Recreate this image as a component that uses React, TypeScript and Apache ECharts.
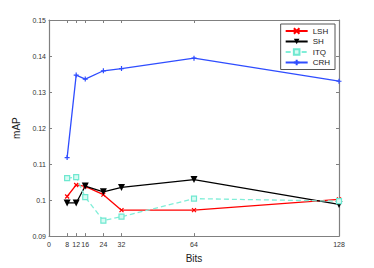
import React, { useEffect, useRef } from "react";
import * as echarts from "echarts";

const bits = [8, 12, 16, 24, 32, 64, 128];
const xTicks = [0, 8, 12, 16, 24, 32, 64, 128];
const lsh = [0.101, 0.1042, 0.1038, 0.1015, 0.0972, 0.0972, 0.1002];
const sh = [0.0992, 0.0992, 0.1039, 0.1023, 0.1035, 0.1057, 0.0988];
const itq = [0.1061, 0.1064, 0.1008, 0.0943, 0.0954, 0.1004, 0.0997];
const crh = [0.1118, 0.1347, 0.1336, 0.1359, 0.1365, 0.1394, 0.133];

const pair = (v: number[]) => bits.map((b, i) => [b, v[i]]);

export default function App() {
  const ref = useRef<HTMLDivElement>(null);
  useEffect(() => {
    const chart = echarts.init(ref.current!, null, { renderer: "svg" });
    const font = "Liberation Sans";
    const axisColor = "#808080";
    chart.setOption({
      animation: false,
      backgroundColor: "#ffffff",
      textStyle: { fontFamily: font },
      grid: { left: 49, right: 35, top: 20, bottom: 31 },
      legend: {
        orient: "vertical",
        right: 39,
        top: 24,
        itemWidth: 22,
        itemHeight: 7,
        itemGap: 2.5,
        padding: [3, 5, 3, 4],
        borderColor: "#555",
        borderWidth: 1,
        backgroundColor: "#fff",
        textStyle: { fontSize: 8, color: "#222", padding: [0, 0, 0, 0] },
        data: ["LSH", "SH", "ITQ", "CRH"],
      },
      xAxis: [
        {
          type: "value",
          min: 0,
          max: 128,
          name: "Bits",
          nameLocation: "middle",
          nameGap: 14,
          nameTextStyle: { fontSize: 10, color: "#222" },
          axisLine: { lineStyle: { color: axisColor, width: 1.2 } },
          axisTick: { inside: true, length: 3, customValues: xTicks, lineStyle: { color: axisColor } },
          axisLabel: { customValues: xTicks, fontSize: 7, color: "#333", margin: 5 },
          splitLine: { show: false },
        },
        {
          type: "value",
          position: "top",
          min: 0,
          max: 128,
          axisLine: { show: true, onZero: false, lineStyle: { color: axisColor, width: 1.2 } },
          axisTick: { inside: true, length: 3, customValues: xTicks, lineStyle: { color: axisColor } },
          axisLabel: { show: false },
          splitLine: { show: false },
        },
      ],
      yAxis: [
        {
          type: "value",
          min: 0.09,
          max: 0.15,
          interval: 0.01,
          name: "mAP",
          nameLocation: "middle",
          nameGap: 24,
          nameTextStyle: { fontSize: 10, color: "#222" },
          axisLine: { show: true, lineStyle: { color: axisColor, width: 1.2 } },
          axisTick: { show: true, inside: true, length: 3, lineStyle: { color: axisColor } },
          axisLabel: {
            fontSize: 7,
            color: "#333",
            margin: 3,
            formatter: (v: number) => String(parseFloat(v.toFixed(2))),
          },
          splitLine: { show: false },
        },
        {
          type: "value",
          position: "right",
          min: 0.09,
          max: 0.15,
          interval: 0.01,
          axisLine: { show: true, onZero: false, lineStyle: { color: axisColor, width: 1.2 } },
          axisTick: { show: true, inside: true, length: 3, lineStyle: { color: axisColor } },
          axisLabel: { show: false },
          splitLine: { show: false },
        },
      ],
      series: [
        {
          name: "LSH",
          type: "line",
          data: pair(lsh),
          symbol: "path://M0,0L10,10M10,0L0,10",
          symbolSize: 4,
          itemStyle: { color: "#ff0000", borderColor: "#ff0000", borderWidth: 1.2 },
          lineStyle: { color: "#ff0000", width: 1.3 },
        },
        {
          name: "SH",
          type: "line",
          data: pair(sh),
          symbol: "triangle",
          symbolRotate: 180,
          symbolSize: 7,
          itemStyle: { color: "#000000" },
          lineStyle: { color: "#000000", width: 1.3 },
        },
        {
          name: "ITQ",
          type: "line",
          data: pair(itq),
          symbol: "rect",
          symbolSize: 5,
          itemStyle: { color: "#d8fbf3", borderColor: "#6ee8d0", borderWidth: 1.2 },
          lineStyle: { color: "#80eed8", width: 1.3, type: [5, 3] },
        },
        {
          name: "CRH",
          type: "line",
          data: pair(crh),
          symbol: "path://M5,0L5,10M0,5L10,5",
          symbolSize: 5,
          itemStyle: { color: "#2f4dff", borderColor: "#2f4dff", borderWidth: 1.2 },
          lineStyle: { color: "#2f4dff", width: 1.3 },
        },
      ],
    });
    return () => chart.dispose();
  }, []);
  return (
    <div
      ref={ref}
      style={{ position: "fixed", left: 0, top: 0, width: 374, height: 268, background: "#fff" }}
    />
  );
}
